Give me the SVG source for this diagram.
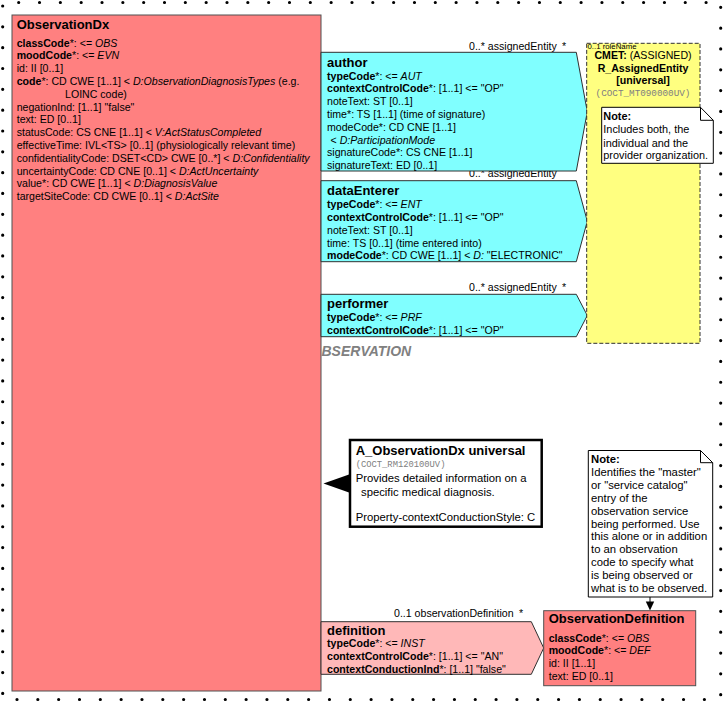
<svg xmlns="http://www.w3.org/2000/svg" width="723" height="702" viewBox="0 0 723 702">
<style>
text{font-family:"Liberation Sans",Arial,sans-serif;font-size:10.6px;fill:#000}
.h{font-weight:bold;font-size:13px}
.b{font-weight:bold}
.i{font-style:italic}
.m{font-family:"Liberation Mono","Courier New",monospace;fill:#808080}
.cls{fill:#FF8080;stroke:#505050;stroke-width:1}
.part{fill:#80FFFF;stroke:#303030;stroke-width:1}
.pink{fill:#FFB8B8;stroke:#303030;stroke-width:1}
.note{fill:#fff;stroke:#000;stroke-width:1}
.dots{stroke:#000;stroke-width:3.2;stroke-linecap:round;stroke-dasharray:0 20.83;fill:none}
.n{font-size:10.9px}
.n2{font-size:11.3px}
</style>
<rect width="723" height="702" fill="#fff"/>
<g id="frame">
<line class="dots" x1="18.7" y1="2.5" x2="707" y2="2.5"/>
<line class="dots" x1="2.7" y1="6" x2="2.7" y2="694"/>
<line class="dots" x1="720.7" y1="7.3" x2="720.7" y2="695"/>
<line class="dots" x1="17" y1="699.5" x2="705" y2="699.5"/>
</g>
<g id="bg-label">
<text x="321.5" y="355.5" style="font-size:14px;font-weight:bold;font-style:italic;fill:#808080">BSERVATION</text>
</g>
<g id="connectors">
<text x="469" y="49.8">0..* assignedEntity</text><text x="562" y="49.8">*</text>
<text x="469" y="177.2">0..* assignedEntity</text>
<text x="469" y="290.5">0..* assignedEntity</text><text x="562" y="290.5">*</text>
<text x="394" y="617">0..1 observationDefinition</text><text x="519" y="617">*</text>
<polygon points="323.5,483.5 349,474.5 349,492.5" fill="#000"/>
<line x1="677" y1="107.3" x2="692" y2="84.5" stroke="#000" stroke-width="1"/>
<polygon points="697,77.5 694.96,86.93 689.12,83.07" fill="#000"/>
<line x1="650" y1="597" x2="650" y2="603" stroke="#000" stroke-width="1"/>
<polygon points="650,610.5 645.8,601.5 654.2,601.5" fill="#000"/>
</g>
<g id="ObservationDx">
<rect class="cls" x="12" y="15" width="309" height="676"/>
<text class="h" x="16.7" y="28.5">ObservationDx</text>
<text x="16.7" y="46.5"><tspan class="b">classCode</tspan>*: &lt;= <tspan class="i">OBS</tspan></text>
<text x="16.7" y="59.3"><tspan class="b">moodCode</tspan>*: &lt;= <tspan class="i">EVN</tspan></text>
<text x="16.7" y="72.1">id: II [0..1]</text>
<text x="16.7" y="84.9"><tspan class="b">code</tspan>*: CD CWE [1..1] &lt; <tspan class="i">D:ObservationDiagnosisTypes</tspan> (e.g.</text>
<text x="65" y="97.7">LOINC code)</text>
<text x="16.7" y="110.5">negationInd: [1..1] "false"</text>
<text x="16.7" y="123.3">text: ED [0..1]</text>
<text x="16.7" y="136.1">statusCode: CS CNE [1..1] &lt; <tspan class="i">V:ActStatusCompleted</tspan></text>
<text x="16.7" y="148.9">effectiveTime: IVL&lt;TS&gt; [0..1] (physiologically relevant time)</text>
<text x="16.7" y="161.7">confidentialityCode: DSET&lt;CD&gt; CWE [0..*] &lt; <tspan class="i">D:Confidentiality</tspan></text>
<text x="16.7" y="174.5">uncertaintyCode: CD CNE [0..1] &lt; <tspan class="i">D:ActUncertainty</tspan></text>
<text x="16.7" y="187.3">value*: CD CWE [1..1] &lt; <tspan class="i">D:DiagnosisValue</tspan></text>
<text x="16.7" y="200.1">targetSiteCode: CD CWE [0..1] &lt; <tspan class="i">D:ActSite</tspan></text>
</g>
<g id="author">
<polygon class="part" points="321,52.3 576.3,52.3 587.3,111.7 576.3,171 321,171"/>
<text class="h" x="327" y="66.5">author</text>
<text x="327" y="79.5"><tspan class="b">typeCode</tspan>*: &lt;= <tspan class="i">AUT</tspan></text>
<text x="327" y="92.3"><tspan class="b">contextControlCode</tspan>*: [1..1] &lt;= "OP"</text>
<text x="327" y="105.1">noteText: ST [0..1]</text>
<text x="327" y="117.9">time*: TS [1..1] (time of signature)</text>
<text x="327" y="130.7">modeCode*: CD CNE [1..1]</text>
<text x="330.5" y="143.5">&lt; <tspan class="i">D:ParticipationMode</tspan></text>
<text x="327" y="156.3">signatureCode*: CS CNE [1..1]</text>
<text x="327" y="169.1">signatureText: ED [0..1]</text>
</g>
<g id="dataEnterer">
<polygon class="part" points="321,180.7 576.3,180.7 587.3,221.2 576.3,261.7 321,261.7"/>
<text class="h" x="327" y="195.2">dataEnterer</text>
<text x="327" y="208.1"><tspan class="b">typeCode</tspan>*: &lt;= <tspan class="i">ENT</tspan></text>
<text x="327" y="220.9"><tspan class="b">contextControlCode</tspan>*: [1..1] &lt;= "OP"</text>
<text x="327" y="233.7">noteText: ST [0..1]</text>
<text x="327" y="246.5">time: TS [0..1] (time entered into)</text>
<text x="327" y="259.3"><tspan class="b">modeCode</tspan>*: CD CWE [1..1] &lt; <tspan class="i">D:</tspan> "ELECTRONIC"</text>
</g>
<g id="performer">
<polygon class="part" points="321,294.3 576.3,294.3 587.3,315.5 576.3,336.7 321,336.7"/>
<text class="h" x="327" y="307.8">performer</text>
<text x="327" y="320.8"><tspan class="b">typeCode</tspan>*: &lt;= <tspan class="i">PRF</tspan></text>
<text x="327" y="333.6"><tspan class="b">contextControlCode</tspan>*: [1..1] &lt;= "OP"</text>
</g>
<g id="R_AssignedEntity">
<rect x="586.7" y="43.3" width="113.3" height="300" fill="#FFFF80" stroke="#303030" stroke-width="1" stroke-dasharray="4,2"/>
<text x="587.5" y="49" style="font-size:7.8px">0..1 roleName</text>
<text x="643" y="59" text-anchor="middle"><tspan class="b">CMET:</tspan> (ASSIGNED)</text>
<text class="b" x="643" y="71.7" text-anchor="middle">R_AssignedEntity</text>
<text class="b" x="643" y="84.2" text-anchor="middle">[universal]</text>
<text class="m" x="643" y="95.7" text-anchor="middle" style="font-size:9.3px">(COCT_MT090000UV)</text>
</g>
<g id="note-author">
<path class="note" d="M601.7,107.3 H700.5 L713.3,120.3 V163.3 H601.7 Z"/>
<path d="M700.5,107.3 V120.3 H713.3" fill="none" stroke="#000" stroke-width="1"/>
<text class="n b" x="603.3" y="120">Note:</text>
<text class="n" x="603.3" y="133.3">Includes both, the</text>
<text class="n" x="603.3" y="146.6">individual and the</text>
<text class="n" x="603.3" y="159.4">provider organization.</text>
</g>
<g id="A_ObservationDx">
<rect x="350" y="440" width="191.7" height="86.7" fill="#fff" stroke="#000" stroke-width="2.5"/>
<text class="h" x="355.7" y="455.2">A_ObservationDx universal</text>
<text class="m" x="355.7" y="467.3" style="font-size:8.8px">(COCT_RM120100UV)</text>
<text class="n2" x="355.7" y="481.6">Provides detailed information on a</text>
<text class="n2" x="361" y="495.5">specific medical diagnosis.</text>
<text class="n2" x="355.7" y="521.2">Property-contextConductionStyle: C</text>
</g>
<g id="note-definition">
<path class="note" d="M588.3,450.5 H700.5 L712.7,462.7 V597 H588.3 Z"/>
<path d="M700.5,450.5 V462.7 H712.7" fill="none" stroke="#000" stroke-width="1"/>
<text class="n2 b" x="591" y="463">Note:</text>
<text class="n2" x="591" y="475.9">Identifies the "master"</text>
<text class="n2" x="591" y="488.8">or "service catalog"</text>
<text class="n2" x="591" y="501.7">entry of the</text>
<text class="n2" x="591" y="514.6">observation service</text>
<text class="n2" x="591" y="527.5">being performed. Use</text>
<text class="n2" x="591" y="540.4">this alone or in addition</text>
<text class="n2" x="591" y="553.3">to an observation</text>
<text class="n2" x="591" y="566.2">code to specify what</text>
<text class="n2" x="591" y="579.1">is being observed or</text>
<text class="n2" x="591" y="592">what is to be observed.</text>
</g>
<g id="definition">
<polygon class="pink" points="321,621.7 531.3,621.7 543.7,648 531.3,674.3 321,674.3"/>
<text class="h" x="327" y="634.5">definition</text>
<text x="327" y="647.2"><tspan class="b">typeCode</tspan>*: &lt;= <tspan class="i">INST</tspan></text>
<text x="327" y="660"><tspan class="b">contextControlCode</tspan>*: [1..1] &lt;= "AN"</text>
<text x="327" y="672.6"><tspan class="b">contextConductionInd</tspan>*: [1..1] "false"</text>
</g>
<g id="ObservationDefinition">
<rect class="cls" x="543.7" y="610.7" width="152" height="75"/>
<text class="h" x="548.7" y="623">ObservationDefinition</text>
<text x="548.7" y="641.5"><tspan class="b">classCode</tspan>*: &lt;= <tspan class="i">OBS</tspan></text>
<text x="548.7" y="654.3"><tspan class="b">moodCode</tspan>*: &lt;= <tspan class="i">DEF</tspan></text>
<text x="548.7" y="667.1">id: II [1..1]</text>
<text x="548.7" y="679.9">text: ED [0..1]</text>
</g>
</svg>
